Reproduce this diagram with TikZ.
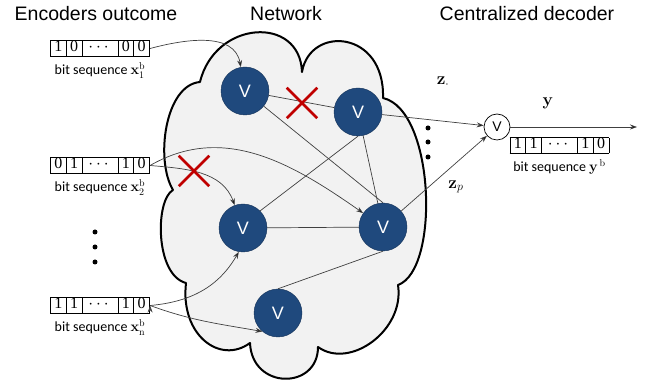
\documentclass[tikz,border=0pt]{standalone}
\usepackage{amsmath}
\usepackage[no-math]{fontspec}
\usepackage{array}
\setmainfont{Carlito}
\newfontfamily\headfont{Liberation Sans}
\newfontfamily\digitfont{Liberation Serif}
\usetikzlibrary{arrows.meta,positioning,shapes.misc}
\definecolor{nodeblue}{HTML}{1F497D}
\definecolor{cloudgray}{HTML}{F2F2F2}
\definecolor{crossred}{HTML}{C00000}
\setlength{\arrayrulewidth}{0.8pt}
\newcommand{\bitrow}[5]{\setlength{\tabcolsep}{3pt}%
  \begin{tabular}{|w{c}{9pt}|w{c}{9pt}|w{c}{29pt}|w{c}{9pt}|w{c}{9pt}|}\hline #1&#2&#3&#4&#5\\\hline\end{tabular}}

\begin{document}
\begin{tikzpicture}[x=1pt,y=1pt,>={Stealth[length=7pt,width=5pt]},
    vnode/.style={circle,draw=nodeblue!70!black,fill=nodeblue,minimum size=48pt,inner sep=0pt,
                  text=white,font=\headfont\fontsize{18}{18}\selectfont},
    ornode/.style={circle,draw,line width=0.7pt,fill=white,minimum size=26pt,inner sep=0pt,
                   font=\headfont\fontsize{14}{14}\selectfont},
    link/.style={draw=black!75,line width=0.7pt},
    cutmark/.style={cross out,draw=crossred,line width=2.5pt,minimum size=28pt,inner sep=0pt},
    heading/.style={font=\headfont\fontsize{19.5}{19.5}\selectfont},
    bits/.style={inner sep=0pt,font=\digitfont\fontsize{16}{15.5}\selectfont},
    seqlabel/.style={inner sep=1pt,font=\fontsize{14}{14}\selectfont},
    zlabel/.style={font=\fontsize{17}{17}\selectfont},
    dotmark/.style={circle,fill,minimum size=5pt,inner sep=0pt}]
  \useasboundingbox (0,0) rectangle (651,385);

  \draw[fill=cloudgray,line width=2pt,line join=round]
    (200,303) .. controls (215,365) and (300,370) .. (302,313)
              .. controls (310,360) and (385,355) .. (383,287)
              .. controls (435,275) and (440,115) .. (398,100)
              .. controls (405,55) and (350,15) .. (318,38)
              .. controls (318,-5) and (252,-5) .. (250,42)
              .. controls (220,20) and (180,50) .. (186,102)
              .. controls (155,110) and (155,185) .. (173,195)
              .. controls (155,225) and (165,300) .. cycle;

  \node[heading] (h_enc) at (96,371) {Encoders outcome};
  \node[heading] (h_net) at (286,371) {Network};
  \node[heading] (h_dec) at (527,371) {Centralized decoder};

  \node[bits] (b_1) at (100,336.5) {\bitrow{1}{0}{$\cdots$}{0}{0}};
  \node[seqlabel,below=4pt of b_1] (l_1) {bit sequence $\mathbf{x}^{\mathrm{b}}_{1}$};
  \node[bits] (b_2) at (100,219.5) {\bitrow{0}{1}{$\cdots$}{1}{0}};
  \node[seqlabel,below=4pt of b_2] (l_2) {bit sequence $\mathbf{x}^{\mathrm{b}}_{2}$};
  \node[bits] (b_3) at (100,79.5) {\bitrow{1}{1}{$\cdots$}{1}{0}};
  \node[seqlabel,below=4pt of b_3] (l_3) {bit sequence $\mathbf{x}^{\mathrm{b}}_{\mathrm{n}}$};

  \node[dotmark] (d_1) at (95,153) {};
  \node[dotmark] (d_2) at (95,138) {};
  \node[dotmark] (d_3) at (95,123) {};

  \node[vnode] (v_1) at (245,294) {V};
  \node[vnode] (v_2) at (358,273) {V};
  \node[vnode] (v_3) at (243,157) {V};
  \node[vnode] (v_4) at (383,158) {V};
  \node[vnode] (v_5) at (278,72) {V};

  \node[ornode] (dec) at (497,258) {V};
  \coordinate (out) at (637,258);
  \node[bits] (b_y) at (559.5,239.5) {\bitrow{1}{1}{$\cdots$}{1}{0}};
  \node[seqlabel,below=4pt of b_y] (l_y) {bit sequence $\mathbf{y}^{\,\mathrm{b}}$};

  \node[dotmark] (d_4) at (428,257) {};
  \node[dotmark] (d_5) at (428,243) {};
  \node[dotmark] (d_6) at (428,228) {};

  \node[zlabel] (z_1) at (443,303) {$\mathbf{z}_{\cdot}$};
  \node[zlabel] (z_p) at (456,198) {$\mathbf{z}_{p}$};
  \node[zlabel] (y) at (548,282) {$\mathbf{y}$};

  \path[link]
    (v_1) edge (v_2)
    (v_1) edge (v_4.north)
    (v_2.south) edge (v_3.north east)
    (v_2) edge (v_4)
    (v_3) edge (v_4)
    (v_4.south) edge (v_5.north);
  \path[link,->]
    (b_1.east) edge[out=15,in=100] (v_1)
    (b_2.east) edge[out=-5,in=110] (v_3)
    (b_2.east) edge[out=30,in=145] (v_4)
    (b_3.east) edge[out=5,in=-120] (v_3.-100)
    (b_3.east) edge[out=-20,in=170] (v_5.230)
    (v_2) edge (dec)
    (v_4) edge (dec)
    (dec) edge (out);

  \node[cutmark] (cut_1) at (302,282) {};
  \node[cutmark] (cut_2) at (194,214) {};
\end{tikzpicture}
\end{document}
